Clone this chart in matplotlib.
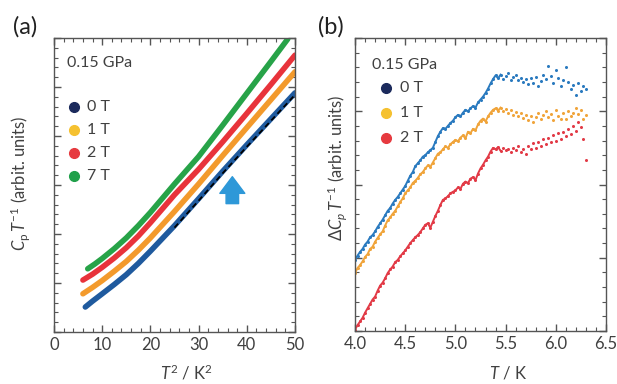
import numpy as np
import matplotlib
matplotlib.use("Agg")
import matplotlib.pyplot as plt
import matplotlib.ticker as tck

plt.rcParams['font.family'] = ['Lato', 'DejaVu Sans']
plt.rcParams['mathtext.fontset'] = 'custom'
plt.rcParams['mathtext.rm'] = 'Lato'
plt.rcParams['mathtext.it'] = 'Lato:italic'
plt.rcParams['mathtext.bf'] = 'Lato:bold'

TXT = '#404040'

# ---- panel (a) : Cp/T vs T^2 ----
t2_a = [6.5, 8, 10, 12.5, 15, 17.5, 20, 25, 30, 35, 40, 45, 50]
cp_0T = [0.51, 0.63, 0.78, 0.97, 1.17, 1.40, 1.65, 2.17, 2.72, 3.28, 3.82, 4.35, 4.88]
t2_1T = [6, 8, 10, 12.5, 15, 17.5, 20, 25, 30, 35, 40, 45, 50]
cp_1T = [0.78, 0.91, 1.05, 1.24, 1.44, 1.67, 1.92, 2.46, 3.02, 3.60, 4.17, 4.74, 5.31]
t2_2T = [6, 8, 10, 12.5, 15, 17.5, 20, 25, 30, 35, 40, 45, 50]
cp_2T = [1.06, 1.18, 1.32, 1.51, 1.72, 1.96, 2.23, 2.80, 3.32, 3.88, 4.46, 5.05, 5.65]
t2_7T = [7, 8.5, 10, 12.5, 15, 17.5, 20, 25, 30, 35, 40, 45, 48.5]
cp_7T = [1.29, 1.39, 1.50, 1.70, 1.92, 2.17, 2.44, 3.02, 3.58, 4.22, 4.87, 5.52, 5.98]
# dashed fit over the 0 T data
t2_fit = [25, 30, 35, 40, 45, 50]
cp_fit = [2.13, 2.68, 3.24, 3.78, 4.31, 4.84]

labels_a = ['0 T', '1 T', '2 T', '7 T']
line_cols_a = ['#1f5a9e', '#f39a2c', '#e8333b', '#27a348']
dot_cols_a = ['#1b2a5c', '#f5c130', '#e63a3f', '#20a04a']

# ---- panel (b) : delta Cp/T vs T ----
t_b = np.arange(93) * 0.025 + 4.0
d_0T = [0.97, 1.03, 1.08, 1.12, 1.18, 1.22, 1.28, 1.31, 1.36, 1.42, 1.47, 1.52,
        1.58, 1.64, 1.68, 1.74, 1.79, 1.83, 1.88, 1.93, 1.98, 2.05, 2.12, 2.17,
        2.25, 2.29, 2.33, 2.38, 2.40, 2.44, 2.47, 2.50, 2.58, 2.66, 2.72, 2.77,
        2.76, 2.80, 2.84, 2.87, 2.92, 2.95, 2.93, 2.98, 3.02, 3.00, 3.04, 3.07,
        3.05, 3.12, 3.16, 3.20, 3.25, 3.31, 3.38, 3.44, 3.49, 3.45, 3.50, 3.44,
        3.48, 3.52, 3.43, 3.47, 3.50, 3.42, 3.46, 3.40, 3.44, 3.37, 3.45, 3.39,
        3.47, 3.35, 3.41, 3.50, 3.44, 3.62, 3.48, 3.38, 3.57, 3.45, 3.34, 3.42,
        3.60, 3.40, 3.30, 3.36, 3.22, 3.38, 3.28, 3.35, 3.31]
d_1T = [0.79, 0.86, 0.90, 0.95, 1.01, 1.05, 1.12, 1.15, 1.22, 1.27, 1.32, 1.36,
        1.44, 1.51, 1.55, 1.60, 1.64, 1.70, 1.76, 1.81, 1.88, 1.92, 1.96, 2.02,
        2.05, 2.09, 2.14, 2.17, 2.22, 2.26, 2.24, 2.30, 2.36, 2.42, 2.44, 2.48,
        2.52, 2.50, 2.55, 2.58, 2.61, 2.59, 2.64, 2.67, 2.63, 2.72, 2.70, 2.76,
        2.74, 2.82, 2.87, 2.90, 2.86, 2.93, 2.98, 3.02, 3.04, 3.01, 3.05, 3.00,
        3.03, 2.97, 3.02, 2.95, 2.99, 2.93, 2.97, 2.91, 2.95, 2.88, 2.94, 2.86,
        2.92, 2.98, 2.90, 2.95, 3.00, 2.92, 2.96, 2.88, 3.02, 2.94, 2.90, 2.97,
        2.89, 3.00, 2.93, 2.98, 3.05, 2.96, 3.02, 2.90, 2.95]
d_2T = [0.02, 0.08, 0.13, 0.18, 0.25, 0.31, 0.37, 0.43, 0.47, 0.55, 0.62, 0.66,
        0.72, 0.79, 0.84, 0.88, 0.94, 0.97, 1.02, 1.06, 1.10, 1.15, 1.20, 1.24,
        1.28, 1.31, 1.35, 1.40, 1.45, 1.47, 1.41, 1.49, 1.57, 1.64, 1.72, 1.79,
        1.81, 1.84, 1.88, 1.90, 1.92, 1.96, 1.94, 2.01, 2.04, 2.02, 2.08, 2.10,
        2.06, 2.15, 2.22, 2.27, 2.33, 2.38, 2.45, 2.50, 2.48, 2.51, 2.46, 2.50,
        2.47, 2.49, 2.45, 2.50, 2.47, 2.52, 2.44, 2.49, 2.41, 2.53, 2.48, 2.56,
        2.50, 2.58, 2.53, 2.62, 2.55, 2.64, 2.58, 2.67, 2.60, 2.70, 2.62, 2.72,
        2.66, 2.76, 2.69, 2.80, 2.73, 2.85, 2.78, 2.62, 2.33]

labels_b = ['0 T', '1 T', '2 T']
line_cols_b = ['#2a7abf', '#f0a43a', '#e23a46']
dot_cols_b = ['#1b2a5c', '#f5c130', '#e63a3f']


def style_axes(ax):
    for s in ax.spines.values():
        s.set_color('#555555')
        s.set_linewidth(1.0)
    ax.tick_params(which='both', direction='in', top=True, right=True,
                   color='#555555', labelcolor=TXT, labelsize=12, labelleft=False)
    ax.tick_params(which='major', length=5, width=1)
    ax.tick_params(which='minor', length=3, width=0.8)


fig = plt.figure(figsize=(6.17, 3.84), dpi=100)

# (a)
ax1 = fig.add_axes([0.0875, 0.1354, 0.3906, 0.7656])
for xs, ys, c in zip([t2_a, t2_1T, t2_2T, t2_7T], [cp_0T, cp_1T, cp_2T, cp_7T], line_cols_a):
    ax1.plot(xs, ys, color=c, lw=4, solid_capstyle='round', solid_joinstyle='round')
ax1.plot(t2_fit, cp_fit, color='black', lw=1.3, ls=(0, (3, 2)))
ax1.annotate('', xy=(37, 3.17), xytext=(37, 2.62),
             arrowprops=dict(arrowstyle='simple,head_width=0.9,head_length=0.6,tail_width=0.45',
                             mutation_scale=20, color='#2e98d8', shrinkA=0, shrinkB=0))
ax1.set_xlim(0, 50)
ax1.set_ylim(0, 6)
ax1.xaxis.set_major_locator(tck.MultipleLocator(10))
ax1.xaxis.set_minor_locator(tck.MultipleLocator(2))
ax1.yaxis.set_major_locator(tck.MultipleLocator(1))
ax1.yaxis.set_minor_locator(tck.MultipleLocator(0.2))
style_axes(ax1)
ax1.set_xlabel('$T^2$ / K$^2$', fontsize=12, color=TXT)
ax1.xaxis.set_label_coords(0.55, -0.105)
ax1.set_ylabel('$C_\\mathrm{p}\\,T^{-1}$ (arbit. units)', fontsize=12, color=TXT)
ax1.yaxis.set_label_coords(-0.09, 0.507)
ax1.text(0.054, 0.915, '0.15 GPa', transform=ax1.transAxes, fontsize=11.5,
         color=TXT, va='center', ha='left')
for i, (lab, c) in enumerate(zip(labels_a, dot_cols_a)):
    y = 0.765 - i * 0.078
    ax1.plot(0.083, y, 'o', ms=7, color=c, transform=ax1.transAxes)
    ax1.text(0.137, y, lab, transform=ax1.transAxes, fontsize=11.5,
             color=TXT, va='center', ha='left')

# (b)
ax2 = fig.add_axes([0.5754, 0.138, 0.4068, 0.763])
for ys, c in zip([d_0T, d_1T, d_2T], line_cols_b):
    ys = np.array(ys)
    m = t_b <= 5.45
    ax2.plot(t_b[m], ys[m], color=c, lw=1.4)
    ax2.plot(t_b, ys, 'o', color=c, ms=2.2, mec='none')
ax2.set_xlim(4.0, 6.5)
ax2.set_ylim(0, 4)
ax2.xaxis.set_major_locator(tck.MultipleLocator(0.5))
ax2.xaxis.set_minor_locator(tck.MultipleLocator(0.1))
ax2.xaxis.set_major_formatter(tck.FormatStrFormatter('%.1f'))
ax2.yaxis.set_major_locator(tck.MultipleLocator(1))
ax2.yaxis.set_minor_locator(tck.MultipleLocator(0.2))
style_axes(ax2)
ax2.set_xlabel('$T$ / K', fontsize=12, color=TXT)
ax2.xaxis.set_label_coords(0.61, -0.115)
ax2.set_ylabel('$\\Delta C_p\\,T^{-1}$ (arbit. units)', fontsize=12, color=TXT)
ax2.yaxis.set_label_coords(-0.025, 0.556)
ax2.text(0.068, 0.908, '0.15 GPa', transform=ax2.transAxes, fontsize=11.5,
         color=TXT, va='center', ha='left')
for i, (lab, c) in enumerate(zip(labels_b, dot_cols_b)):
    y = 0.829 - i * 0.085
    ax2.plot(0.124, y, 'o', ms=7, color=c, transform=ax2.transAxes)
    ax2.text(0.179, y, lab, transform=ax2.transAxes, fontsize=11.5,
             color=TXT, va='center', ha='left')

fig.text(25 / 617, 1 - 27 / 384, '(a)', fontsize=17, color='#222222', ha='center', va='center')
fig.text(331 / 617, 1 - 27 / 384, '(b)', fontsize=17, color='#222222', ha='center', va='center')

fig.savefig('out.png', dpi=100)
